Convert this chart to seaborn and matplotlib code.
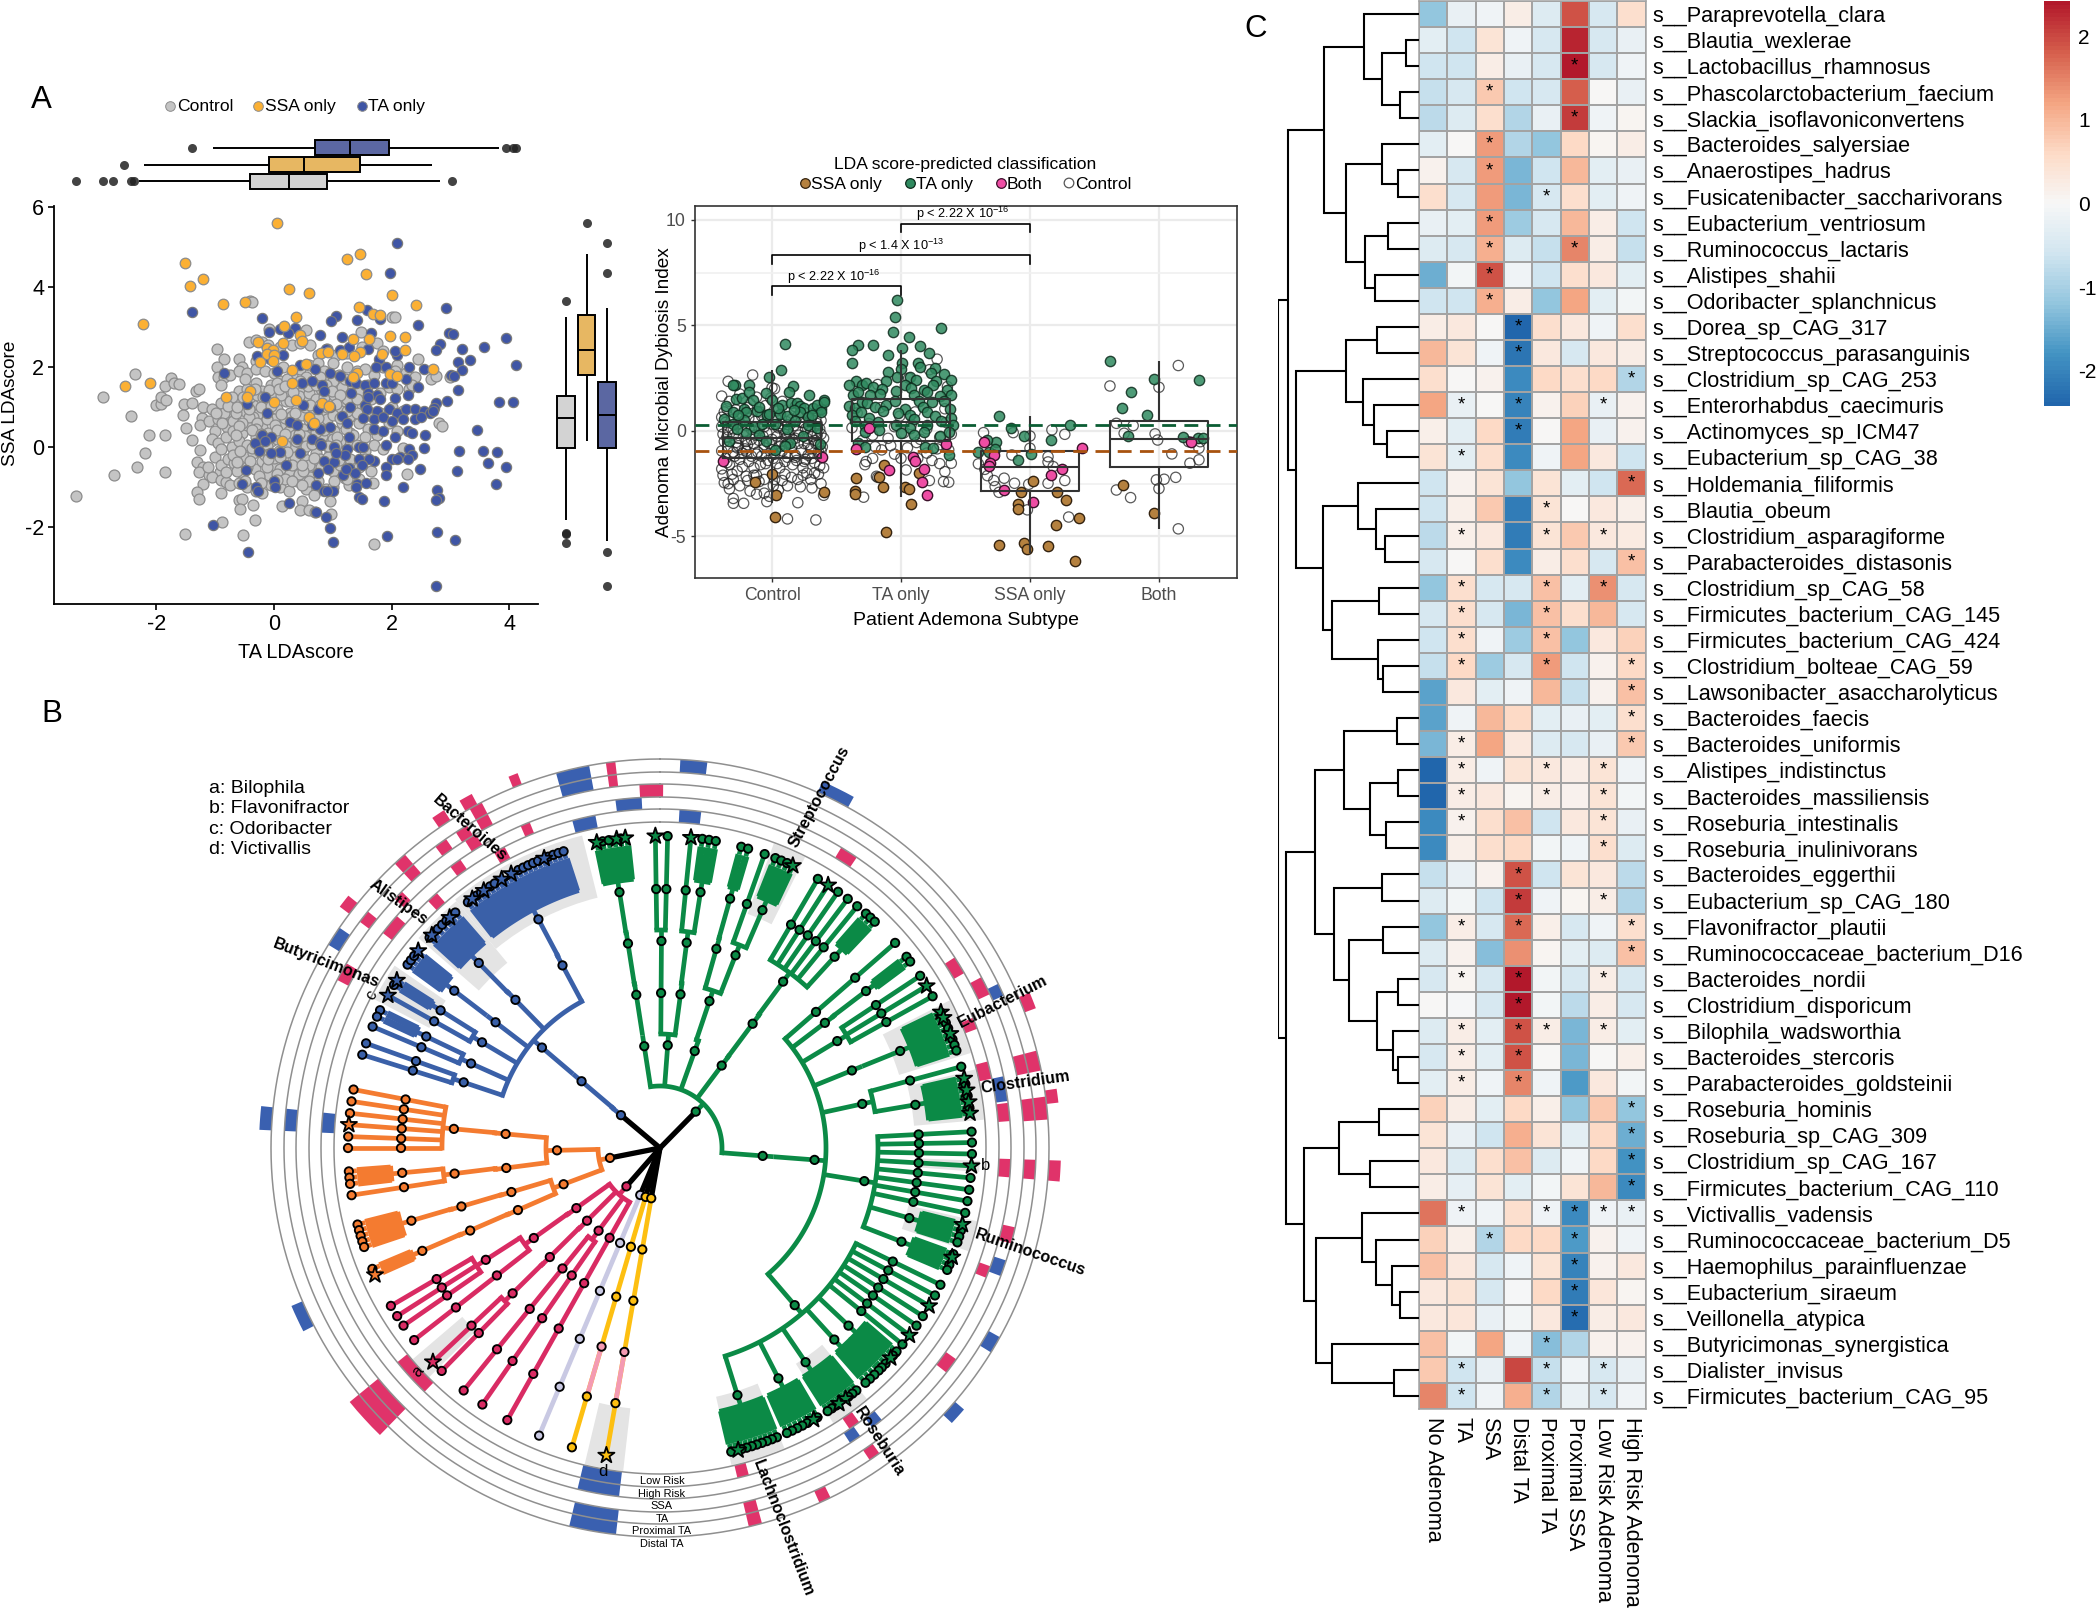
import numpy as np, pandas as pd
import matplotlib
matplotlib.use('Agg')
import matplotlib.pyplot as plt
from matplotlib.colors import LinearSegmentedColormap
import seaborn as sns

plt.rcParams['font.family'] = ['Liberation Sans', 'DejaVu Sans']
plt.rcParams['mathtext.default'] = 'regular'
plt.rcParams['axes.unicode_minus'] = False
W, H = 2100, 1609
fig = plt.figure(figsize=(21, 16.09), dpi=100, facecolor='white')
def axpx(l, t, r, b, **k):
    return fig.add_axes([l / W, 1 - b / H, (r - l) / W, (b - t) / H], **k)

# ---------------------------- Panel A data ----------------------------
CONTROL_PTS = [-3.37,-1.24,-2.9,1.25,-2.72,-.7,-2.43,.78,-2.33,-.5,-2.2,-.16,-2.13,.29,-1.86,.3,-1.86,-.63,-2.37,1.83,-1.75,1.72,-1.85,1.53,-1.7,1.6,-1.62,1.57,-2,1.05,-1.92,1.08,-1.92,1.24,-1.83,1.17,-1.53,1.07,-1.4,1.1,-1.32,1.4,-1.28,1.44,-1.54,.8,-1.5,.48,-1.22,.72,-1.4,.18,-1.25,-.07,-1.3,-.38,-1.2,-.5,-1.28,-.62,-1.1,-.7,-.92,-.63,-1.05,-.75,-.9,-.82,-.82,-.88,-1.2,-.94,-1.31,-1.12,-1.28,-1.31,-.9,-1.16,-.88,-1.87,-.52,-2.2,-1.52,-2.18,-.33,-1.83,-.6,-1.32,-.55,-1.3,-.57,-1.55,-.35,-1.45,.13,-1.48,.47,-1.35,.45,-1.58,.6,-1.57,.7,-1.63,.97,-1.68,.96,-1.36,1.7,-2.42,2.27,-.67,1.68,-.9,1.28,-.95,1.2,-.78,-.4,3.64,-.38,3.63,2,3.24,2.05,3.24,-.09,2.95,.55,2.93,1.48,2.87,-.43,2.63,-.3,2.66,-.97,2.45,-.2,2.62,2.45,2.2,2.67,1.7,2.75,1.78,3,1.75,2.8,.6,2.85,.53,2.1,2.05]
CONTROL_CORE = [-.85,2.2,-.6,2.2,-.55,2,-.3,2.15,-.1,2.55,.1,2.5,.3,2.55,.45,2.6,.62,2.55,.75,2.3,.9,2.45,1.05,2.3,1.25,2.35,1.5,2.5,1.75,2.6,1.85,2.4,-.97,2,-.95,1.75,-.85,1.75,-.75,1.8,-.6,1.9,-.45,1.85,-.3,1.95,-.15,1.9,0,1.85,.15,2,.3,1.8,.45,1.95,.6,2.05,.75,2.1,.85,1.9,1,2.1,1.1,1.8,1.25,2,1.42,1.9,1.55,1.95,1.7,1.8,1.85,2,2.05,1.9,2.25,1.85,2.4,1.75,-.9,1.55,-.6,1.4,-.45,1.45,-.3,1.6,-.2,1.4,-.05,1.55,.1,1.65,.2,1.35,.35,1.55,.5,1.4,.65,1.6,.8,1.45,.9,1.7,1.05,1.5,1.2,1.35,1.3,1.6,1.45,1.4,1.6,1.55,1.8,1.35,1.95,1.5,2.1,1.45,2.3,1.45,2.35,1.55,-1.2,1,-1.05,.95,-.9,1.1,-.75,.8,-.6,1.15,-.5,.9,-.35,1.05,-.25,.85,-.1,1.2,.05,.95,.2,1.15,.28,.85,.4,1,.55,1.2,.68,.9,.85,.85,.95,1.2,1.1,.95,1.2,1.15,1.35,.85,1.5,1.05,1.65,1.2,1.8,.85,2,1,2.2,.9,-1.25,.55,-1.1,.65,-1,.4,-.95,.7,-.8,.5,-.7,.65,-.55,.35,-.45,.55,-.35,.75,-.2,.5,-.1,.35,0,.7,.12,.5,.25,.4,.35,.65,.5,.45,.62,.3,.8,.55,.9,.7,1.02,.4,1.15,.6,1.3,.35,1.45,.6,1.6,.45,1.75,.3,1.95,.6,2.1,.4,-1.05,.2,-.95,.1,-.82,.25,-.72,0,-.6,.15,-.45,.05,-.3,.25,-.2,-.05,-.05,.15,.08,-.1,.2,.2,.32,-.05,.45,.1,.6,.25,.72,-.15,.85,.1,1,.2,1.15,-.1,1.28,.15,1.42,.05,1.55,-.1,1.7,.05,1.85,-.05,2.2,-.02,-1.12,-.5,-1,-.25,-.9,-.45,-.78,-.3,-.68,-.4,-.55,-.65,-.48,-.25,-.33,-.55,-.2,-.35,-.08,-.7,.02,-.45,.15,-.3,.25,-.6,.38,-.45,.52,-.3,.65,-.55,.72,-.7,.85,-.35,1,-.6,1.12,-.45,1.3,-.3,1.45,-.5,1.55,-.3,1.65,-.6,-.75,-.95,-.6,-.9,-.45,-1,-.3,-1.1,-.2,-1.15,-.05,-.95,.1,-1,.25,-1.1,.4,-.85,.55,-1.05,.62,-.75,.75,-.85,.88,-1.05,1,-1,1.25,-.8,1.45,-.8,
 -.5,1.7,-.4,1.25,-.28,1.3,-.15,1.1,-.02,1.3,.12,1.3,.28,1.15,.42,1.28,.6,1.35,.72,1.2,.85,1.25,1.02,1.3,1.15,1.5,1.25,1.2,1.42,1.2,.05,1.6,.22,1.7,.55,1.75,.78,1.75,1.0,1.65,1.2,1.7,-.65,.85,-.42,.75,-.28,.6,-.12,.7,.02,.55,.18,.72,.3,.78,.48,.8,.6,.68,.75,.72,1.0,.8,1.12,.72,1.28,.75,1.42,.85,1.62,.8,-.85,.85,-.7,.4,-.55,.6,-.3,.45,-.12,.02,.05,.2,.18,.05,.35,.3,.52,.28,.68,.12,.82,.28,.95,-.1,1.12,.15,1.35,.3,1.55,.25,-.7,-.2,-.58,-.1,-.35,-.15,-.15,-.2,0,-.28,.1,-.55,.35,-.25,.5,-.08,.6,-.45,.78,-.3,.92,-.25,1.1,-.32,-.62,-.6,-.45,-.5,-.25,-.72,-.12,-.5,.05,-.68,.18,-.8,.42,-.68,.6,-.85,.5,-.6,
 -.72,1.25,-.52,1.25,-.32,1.45,-.18,1.25,-.08,1.42,.08,1.45,.18,1.52,.32,1.38,.44,1.65,.58,1.52,.72,1.55,.88,1.55,.98,1.4,1.12,1.3,-.98,.85,-.78,1.02,-.62,1,-.42,.95,-.22,1,-.05,1.02,.12,.82,.35,.85,.52,1,.62,1.05,.78,1.05,.9,1,1.05,1.08,1.25,.9,-.88,.6,-.6,.52,-.38,.42,-.22,.32,.05,.42,.18,.32,.42,.32,.72,.38,.85,.42,1.08,.25,1.22,.45,-.9,-.05,-.65,.3,-.38,-.02,-.25,.12,-.08,-.18,.22,-.12,.38,.15,.55,.02,.65,.08,.92,.02,1.05,.05,-.82,-.62,-.62,-.38,-.4,-.35,-.1,-.3,.1,-.25,.3,-.45,.48,-.45,.68,-.28,.8,-.5,-.5,-.85,-.22,-.9,.05,-.82,.3,-.85,.48,-.95,.68,-1.2,1.02,-.85]
TA_PTS = [2.09,5.1,1.97,4.34,-1.39,3.38,2.93,3.47,-.21,3.23,1.05,3.26,.97,3.15,1.41,3.18,1.58,3.41,1.8,3.19,2.45,3.04,-.09,2.86,.1,2.94,.36,2.96,.24,2.84,.79,2.79,1.15,2.75,1.65,2.85,2.97,2.84,3.04,2.82,3.94,2.73,2.83,2.57,2.75,2.42,3.19,2.45,3.57,2.49,3.33,2.17,3.13,2.13,4.12,2.05,3.2,1.91,3.01,1.79,3.07,1.78,3.13,1.42,3.82,1.11,4.07,1.11,2.94,1.15,2.75,1.09,2.73,.98,3.45,.43,3.15,-.11,3.55,-.1,3.8,-.12,3.64,-.4,3.95,-.5,3.78,-.93,3.11,-.6,2.49,-.56,2.77,-1.09,2.81,-1.28,2.75,-1.33,2.78,-2.13,3.08,-2.33,2.75,-3.48,1.92,-2.22,1.87,-1.36,1.01,-2.38,.96,-2.04,.89,-1.75,.71,-1.64,.26,-1.4,-.44,-2.62,-1.04,-1.95]
TA_CORE = [-.28,2.28,-.06,2.2,.15,2.3,.45,2.05,.88,2.45,1.12,2.42,1.28,2.49,1.6,2.45,1.78,2.2,2.1,2.3,2.05,2.4,1.73,2,1.9,2,2.3,2,2.55,1.95,-.85,1.85,.05,1.9,.7,1.95,.95,1.85,1.12,1.78,1.3,1.65,.65,1.65,.48,1.6,.82,1.55,1.4,1.6,1.55,1.55,1.7,1.6,1.9,1.6,2,1.6,2.25,1.7,2.45,1.5,.85,1.4,1.31,1.35,1.6,1.35,1.75,1.3,2.28,1.3,-.15,1.25,-.45,1.08,.5,1.05,.75,.95,.95,1,1.3,1,1.55,1.05,1.6,1.25,1.8,1.2,2.05,1.22,1.58,.95,1.75,.9,1.95,.95,2.1,.85,2.25,.95,2.4,.95,2.55,.9,2.65,.85,1.15,.78,1.52,.72,1.7,.7,1.85,.75,2,.65,2.2,.7,2.4,.7,2.5,.75,2.7,.9,-.12,.85,.28,.62,.4,.55,.65,.55,.78,.45,.95,.5,1.25,.6,1.7,.45,1.85,.4,2.28,.4,2.35,.35,2.57,.3,2.05,.25,-.2,.3,-.05,.25,-.32,.1,-.15,.15,.4,.2,.65,.2,.78,.1,1.28,.25,.8,.05,1.02,0,1.25,-.05,1.45,0,1.52,0,1.9,.05,2.3,-.05,2.35,-.2,2.15,-.25,2.55,-.02,.1,-.12,-.05,-.15,-.25,-.1,.45,-.15,2,-.3,2.1,-.3,2.28,-.3,1.2,-.2,1.45,-.3,.85,-.35,1.02,-.38,1.05,-.15,.2,-.45,-.47,-.57,1.28,-.52,1.7,-.35,1.62,-.3,1.9,-.5,1.5,-.45,1.9,-.7,.92,-.55,1.18,-.7,1.38,-.65,1.22,-.55,.75,-.65,-.55,-.93,-.3,-1,-.27,-1.1,0,-.85,.02,-1,.72,-.95,1.42,-.92,1.57,-.9,.85,-1.1,1,-1.1,1.4,-1,1.45,-1.25,1.5,-1.3,2.2,-1.01,.9,-1.1]
SSA_PTS = [.05,5.59,-1.52,4.59,-1.43,4.01,-1.2,4.2,-.86,3.57,-.5,3.63,-2.22,3.07,.25,3.95,.6,3.84,1.25,4.69,1.47,4.82,1.57,4.31,2,3.79,2.42,3.54,1.44,3.49,1.68,3.33,1.8,3.3,.37,3.25,.17,3.02,.45,2.8,.47,2.65,-.27,2.62,.15,2.6,-.12,2.46,-.01,2.42,-.11,2.31,0,2.29,-.23,2.13,-.01,2.15,.54,2.08,.31,1.91,.8,2.34,.92,2.37,1.16,2.33,1.35,2.69,1.61,2.69,1.97,2.76,2.22,2.75,2.22,2.43,1.46,2.38,1.36,2.26,1.83,2.33,1.41,1.84,1.34,1.74,1.97,1.82,2.09,1.78,2.7,1.95,.3,1.59,-2.11,1.59,-2.54,1.52,-.41,1.4,-.46,1.25,-.82,1.25,0,1.12,.37,1.16,.82,1.09,.94,1.02,.6,.75,.68,.6,.14,.14]
BOX_GROUPS = ['TA only', 'SSA only', 'Control']
TOP_FIVE = {'TA only': [-1.03,.69,1.29,1.95,3.82], 'SSA only': [-2.21,-.08,.51,1.46,2.68], 'Control': [-2.29,-.4,.26,.91,2.83]}
TOP_FLIERS = {'TA only': [-1.39,3.94,4.07,4.12], 'SSA only': [-2.55], 'Control': [-3.37,-2.9,-2.73,-2.43,-2.38,3.03]}
RIGHT_GROUPS = ['Control', 'SSA only', 'TA only']
RIGHT_FIVE = {'Control': [-1.83,-.04,.72,1.28,3.24], 'SSA only': [.15,1.8,2.41,3.29,4.81], 'TA only': [-2.36,-.04,.79,1.62,3.47]}
RIGHT_FLIERS = {'Control': [3.64,-2.16,-2.19,-2.4], 'SSA only': [5.59], 'TA only': [5.1,4.34,-2.62,-3.48]}
A_COL = {'Control': '#c4c4c4', 'SSA only': '#fbb034', 'TA only': '#3f55a5'}
BOX_COL = {'Control': '#d3d3d3', 'SSA only': '#fdbd4c', 'TA only': '#4f5fae'}

# ---------------------------- Panel A2 data ---------------------------
CATS = ['Control', 'TA only', 'SSA only', 'Both']
BOX_FIVE = {'Control': [-3.4,-1.3,-.35,.44,2.9], 'TA only': [-3.14,-.46,.4,1.5,3.84], 'SSA only': [-5.8,-2.84,-1.72,-.93,.71], 'Both': [-4.64,-1.72,-.38,.47,3.32]}
OPEN_PTS = {
 0: [.12,-4.17,.34,-4.22,-.3,-3.43,-.22,-3.43,.2,-3.4,-.04,-3.35,-.3,-3.2,-.02,-3.1,-.12,-3,-.06,-2.95,-.33,-2.75,-.25,-2.6,-.17,-2.85,.05,-2.8,.12,-2.6,.22,-2.65,.31,-2.7,.4,-3.05,.38,-2.5,.3,-2.3,-.38,-2.1,-.3,-2.3,-.2,-2.15,-.1,-2.4,.02,-2.3,.1,-2.05,.2,-2.3,.27,-2,.36,-2.05,.4,-1.75,-.39,-1.8,-.33,-1.6,-.27,-1.9,-.14,-1.75,-.05,-1.55,.06,-1.75,.16,-1.6,.24,-1.75,.33,-1.5,-.36,-1.3,-.25,-1.35,-.18,-1.45,-.08,-1.2,.01,-1.3,.12,-1.25,.19,-1.4,.28,-1.15,.37,-1.2,-.39,-.95,-.3,-1,-.21,-.85,-.11,-1,0,-.9,.08,-.95,.15,-.8,.23,-.9,.3,-.85,.39,-.75,-.37,-.5,-.28,-.55,-.19,-.65,-.1,-.45,-.02,-.6,.07,-.5,.16,-.4,.25,-.6,.33,-.45,.4,-.35,-.38,-.15,-.3,-.2,-.22,-.05,-.13,-.2,-.04,-.1,.04,-.25,.13,-.05,.21,-.2,.3,-.05,.38,-.15,-.39,.2,-.3,.1,-.2,.25,-.1,.1,.01,.3,.09,.05,.17,.25,.26,.1,.35,.35,-.39,.65,-.3,.55,-.18,.6,-.08,.7,.03,.6,.11,.45,.2,.7,.3,.55,.38,.5,-.39,1.65,-.25,1.75,0,2.05,.02,2,-.34,2.35,-.15,2.65,-.05,1.2,-.35,1.05,-.2,-.5,.1,-.7,-.34,-2.5,-.14,-2.1,.26,-1.35,-.06,-.65,.11,-.3,.31,-.25,-.25,.35,.05,.25,.22,.4,.36,-1,-.26,-.7,-.12,-1.1,.06,-1.05,.18,-1.15,.34,-.6,
   -.37,-2.45,-.31,-2.05,-.23,-1.7,-.19,-2.35,-.12,-2.1,-.06,-2.3,.01,-2.6,.08,-2.35,.15,-2.2,.24,-2.1,.33,-2,.37,-1.65,-.35,-1.5,-.29,-1.2,-.23,-1.05,-.16,-1.2,-.09,-1.6,-.03,-1.4,.04,-1.55,.1,-1.45,.18,-1.25,.25,-1.45,.31,-1.3,.38,-.95,-.34,-.75,-.27,-.8,-.2,-.95,-.14,-.6,-.06,-.8,.02,-1.1,.06,-.75,.12,-.6,.2,-.6,.28,-.65,.36,-.65,-.35,-.3,-.26,-.35,-.16,-.4,-.07,-.25,0,-.4,.1,-.15,.18,-.35,.27,-.35,.35,-.2,-.34,.05,-.27,.3,-.16,.08,-.06,.2,.05,.15,.12,.3,.2,0,.3,.2,.37,.1,-.36,.4,-.26,.6,-.13,.45,-.04,.45,.07,.35,.15,.55,.24,.4,.34,.6,-.37,.9,-.28,1,-.17,1.3,-.09,.9,.04,.95,.18,1.15,.28,.85,.35,.95,-.33,1.4,-.19,1.1,-.12,1.6,-.01,1.55,.08,1.4],
 1: [.28,3.4,-.29,-3.14,.39,-1.53,.37,-2.43,.34,-1.93,.33,-2.4,.22,-2.35,.22,2.9,-.19,-2.15,-.18,-2.2,.04,-1.85,0,-1.3,-.05,-1.1,-.28,-1.6,-.27,-1.45,-.22,-1.3,.13,-1.3,.24,-1.4,.3,-1.55,-.34,-.85,-.15,-.9,-.08,-.7,.05,-.8,.2,-1.05,.28,-.85,.37,-.9,-.3,-.45,-.22,-.2,-.1,-.35,.02,-.1,.15,-.4,.3,-.3,.39,-.15,-.38,.15,-.25,.35,-.05,.2,.08,.3,.2,.1,.35,.4,.36,2.1,-.18,2.2,.06,2.5,-.01,.7,.11,.9,.34,1.05,-.34,.85,-.16,1.1,.12,-.55,-.2,-.75,.3,-.65],
 2: [-.36,-.08,-.13,-.08,0,-.24,.17,.05,.27,-.16,0,-.82,-.14,-1.14,.14,-1.22,.14,-1.47,.18,-1.69,-.4,-1.56,-.35,-1.82,-.33,-2.12,-.28,-2.35,-.2,-2.24,-.27,-2.64,-.24,-2.91,-.12,-2.48,-.01,-2.53,.14,-2.48,.27,-2.35,-.02,-3.74,.3,-4.08],
 3: [.15,3.1,-.38,2.13,0,2.07,-.33,.36,-.2,.25,-.27,-.11,-.03,-.14,-.01,-.43,.23,-.51,.32,-.51,.31,-.82,.1,-1.09,.31,-1.37,.24,-1.53,.13,-2.2,.04,-2.29,-.02,-2.32,0,-2.73,-.33,-2.8,-.22,-3.16,.15,-4.64]}
GREEN_PTS = {
 0: [.1,4.1,.07,2.9,-.02,2.55,-.29,2.2,-.3,2.2,-.18,2.2,.16,2.15,.13,1.85,.29,1.68,.4,1.45,-.28,1.5,-.23,1.55,-.18,1.85,-.15,1.45,-.36,1.2,-.05,1.8,0,1.45,.08,1.25,.15,1.3,.19,1.3,.22,1.2,.25,1.1,.32,1.1,.38,1.05,.35,1.25,.4,1.35,-.3,.9,-.22,1.05,-.2,.9,-.12,.95,-.04,.75,-.02,.8,.06,.8,.12,.7,.22,.9,.28,.65,.38,.9,-.37,.55,-.3,.35,-.22,.5,-.14,.2,-.08,.35,.02,.35,.12,.1,.18,.45,.28,.3,.35,.15,-.33,-.5,-.1,-.2,-.05,-.5,.14,-.55,.37,-.6,-.2,-.1,.24,-.25,-.27,.1,.05,1.1,.17,1.0,-.1,1.15,.31,.75,-.26,.75,.02,-.9,.1,-.7],
 1: [-.03,6.22,-.05,5.4,-.06,4.69,.31,4.88,.06,4.44,-.22,4.09,-.33,4.09,-.38,3.84,.01,3.92,.15,4.03,.22,3.71,-.1,3.62,-.38,3.22,.01,3.24,.13,3.21,.15,3.02,.26,3,0,2.94,-.1,2.8,-.03,2.56,.23,2.73,.33,2.69,.07,2.57,-.12,2.37,-.35,2.37,.39,2.4,.27,2.35,.12,2.42,-.4,2.2,-.3,2.2,-.27,2.25,-.22,2.1,-.15,2,.03,2.2,.08,2.05,.18,1.95,.25,2.2,.36,1.95,.39,1.7,-.37,1.7,-.33,1.85,-.24,1.7,-.16,1.75,-.04,1.9,.1,1.7,.2,1.85,.3,1.65,.33,1.4,-.4,1.2,-.36,1.1,-.3,1.35,-.26,1.3,-.2,1.15,-.12,1.25,-.05,1.4,.03,1.05,.14,1.4,.17,1.15,.24,1.35,.38,1.05,-.38,.75,-.31,.9,-.25,.6,-.14,.95,-.02,.85,.07,.75,.1,.55,.2,.9,.26,.7,.39,.6,-.36,.45,-.28,.25,-.18,.4,-.04,.3,.07,.15,.2,.3,.31,.45,.4,.3,-.28,-.05,-.17,.05,0,-.1,.1,-.2,.18,-.05,.3,-.25,.37,-.05,-.33,-.55,-.28,-.75,.19,-.75,.25,-.8,.37,-1.15],
 2: [-.24,.71,-.15,.13,-.05,-.22,.16,-.41,.31,.28,.01,-1.09,-.09,-1.37,-.26,-.52,-.33,-.43,-.4,-1,-.32,-1.01,-.27,-.87],
 3: [-.38,3.33,-.04,2.46,.31,2.42,-.22,1.83,-.29,1.11,-.09,.76,-.24,-.22,.19,-.3,.3,-.32,.34,-.35]}
BROWN_PTS = {0: [0,-2.02,-.13,-2.4,.03,-3.05,.02,-4.06,.4,-2.88],
 1: [-.12,-4.8,.08,-3.46,-.36,-2.87,-.36,-2.98,-.35,-2.24,-.17,-2.2,-.14,-2.64,-.13,-1.61,.03,-2.64,.14,-2,.06,-2.75],
 2: [-.24,-5.42,-.05,-5.32,-.02,-5.59,.14,-5.47,.35,-6.15,.2,-4.45,.38,-4.15,.28,-3.25,-.09,-3.46,-.09,-3.71,-.07,-2.88,.02,-2.37,.21,-2.89],
 3: [-.28,-2.54,-.04,-3.87]}
PINK_PTS = {0: [-.38,-1.41,.39,-1.25],
 1: [.2,-3.03,.16,-2.4,-.09,-1.85,.09,-1.22,.11,-1.42,.18,-1.8,-.35,-.85,.35,-.6,-.25,.13],
 2: [-.36,-.54,-.28,-1.14,-.31,-1.5,-.32,-1.66,-.2,-2.78,.02,-3.38,.16,-2.07,.25,-1.82,.4,-.79],
 3: [.25,-.51]}

# ---------------------------- Panel B data ----------------------------
RADII = [51, 103, 155, 207, 259, 312]
def fan(a, b, n):
    return [float(v) for v in np.linspace(a, b, n)]
GREEN_CLADE = (44.5, [
 (-8.8, [(-8.8, [(-8.9, [(-9.0, fan(-11.7, -6.1, 6))])])]),
 (4.3, [(.4, [(.4, [-.85, 1.4])]), (7.6, [(7.4, [5.7, (9.0, fan(7.8, 10.3, 3))])])]),
 (19.7, [(18.6, [(15.8, [(15.7, [15.1, 16.4])]), (21.4, [19.6, (23.3, fan(21.7, 25.2, 4))])])]),
 (36.8, [(36.7, [(36.5, [30.4, 32.6, 34.8, 37.0, 39.2, (42.4, fan(41.3, 43.5, 3))])])]),
 (94.4, [(94.4, [48.9, (52.8, [(52.7, [52.2, 53.3])]), (58.9, [56.5, 58.7, 60.9]),
   (68.0, [(68.0, fan(64.2, 71.8, 8))]), (77.7, [74.9, (80.4, fan(77.1, 83.6, 7))]),
   (99.2, [87.0, 89.0, 91.1, 93.3, 95.5, 97.7, 99.8, 102.0, (105.7, fan(104.2, 107.6, 4)), (111.2, fan(109.9, 113.0, 4))]),
   (139.4, [116.0, 118.2, 120.4, 122.6, 124.7, 126.9, 129.0, (133.3, fan(130.7, 134.7, 5)), (137.7, fan(135.5, 138.8, 4)),
            (145.8, fan(141.0, 147.5, 8)), (152.8, fan(149.7, 156.0, 7)), (162.6, fan(158.0, 166.8, 10))])])])])
BLUE_CLADE = (-49.9, [(-49.6, [(-49.6, [(-28.1, [(-28.0, fan(-38.0, -18.0, 21))]), (-44.3, [(-44.4, fan(-47.6, -41.0, 7))]),
   (-52.6, [(-52.6, fan(-54.0, -51.0, 4))]), (-59.3, [(-57.9, [-57.5, -58.5]), -60.7]),
   (-65.9, [(-64.5, [-63.8, -65.1]), -67.1]), (-71.5, [-70.4, -72.6])])])])
ORANGE_CLADE = (-101.2, [
 (-91.3, [(-84.8, [(-84.7, [-79.2, -81.4, -83.6, -85.7, -87.9, -90.0])]), (-97.4, [(-97.1, [(-95.5, fan(-94.3, -96.6, 3)), -98.7])])]),
 (-110.6, [(-106.5, [(-106.4, [(-106.3, fan(-104.2, -108.5, 5))])]), (-113.6, [(-113.5, [(-113.4, [-112.8, -114.0])])])])])
RED_CLADE = (-138.8, [
 (-125.7, [(-125.5, [(-122.7, [-120.4, -122.6, -124.7]), -128.0])]),
 (-134.9, [(-134.7, [(-134.6, [-133.3, -135.6])])]),
 (-143.4, [-141.0, -145.3]), -150.7])
LAVENDER_CLADE, YELLOW_A, YELLOW_B = -157.2, -163.6, -170.1
C_GREEN, C_BLUE, C_ORANGE, C_RED, C_LAV, C_YEL, C_PINK = '#0b8a46', '#3a60a8', '#f47b30', '#d92b63', '#c9c9e3', '#fdbf11', '#f49ab2'
STARS = {C_GREEN: [-11.7, -8.0, -6.4, -.85, 5.7, 25.2, 32.6, 58.7, 64.2, 65.3, 68.5, 77.1, 79.3, 81.5, 83.6, 93.3, 104.2, 110.5, 120.4, 126.9, 132.3, 143.5, 145.0, 150.5, 165.5],
         C_BLUE: [-21.8, -28.5, -30.5, -34.4, -37.0, -42.4, -47.0, -50.8, -57.5, -60.7],
         C_ORANGE: [-85.7, -114.0], C_RED: [-133.3], C_YEL: [-170.1]}
SHADES = [(20.5,26.5,250,325),(-39.5,-14,258,322),(-49,-39.5,240,320),(-62.5,-55.5,260,322),(63,73,250,325),(76,85,255,325),(92.3,94.3,260,320),
          (103,108.5,255,325),(140.5,147.8,255,325),(157.5,167.3,255,325),(-134.8,-130.5,260,325),(-173.5,-166.6,262,325)]
RINGS = [326, 339, 351, 364, 376, 389]
BAND_EDGES = [326, 339, 351, 364, 376, 389, 401]
RED_MARKS = [(-3.25,.5,2,2),(-8,-6.6,3,4),(-23.4,-21.8,1,1),(-22.2,-20.8,5,5),(-29.3,-27.3,3,4),(-29.3,-27.3,0,0),(-32.4,-30.4,2,2),(-32.9,-30.9,3,3),(-34.6,-32.6,5,5),(-30,-28,5,5),(-36.7,-34.7,1,1),(-36.7,-34.7,3,3),(-43,-41,3,4),(-43.2,-41.2,0,0),(-46.8,-45.2,2,2),(-53,-51,3,3),(-53,-51,5,5),(-52.2,-48.6,1,1),(-62.5,-59.5,2,2),(-136,-129.2,0,0),(-135.7,-129.3,3,5),
             (31.1,34.1,1,1),(57.1,60.1,1,1),(62,65,2,2),(67.2,69.6,5,5),(67.4,69.4,0,0),(75.2,78.2,0,0),(75.5,78.5,3,4),(81.5,83.5,5,5),(82.6,85.6,1,1),(82.4,85.8,3,4),(91.8,94.8,1,1),(91.8,94.8,3,3),(91.8,94.8,5,5),(102.6,105.2,2,2),(109.7,111.7,1,1),(125.5,128.1,2,2),(144.3,146.1,3,3),(144,146,0,0),(154,155.8,4,4),(164.8,166.8,0,0),(164.8,166.8,3,4)]
BLUE_MARKS = [(3.3,7,0,0),(3,7,4,4),(-7.3,-3,1,1),(-15,-11,0,0),(-15.5,-10.5,3,4),(23.9,28.9,5,5),(64.1,66.1,3,3),(78.2,80.6,1,1),(80.3,82.3,1,1),(108,110.6,2,2),(119.1,121.7,4,4),(130.7,133.3,5,5),(140.8,142.8,1,1),(145.2,147.2,1,1),(-173.3,-166.4,0,1),(-173.5,-166.5,3,4),(-117.2,-113.2,5,5),(-58.5,-55.5,4,4),(-87.4,-84,0,0),(-87.4,-84,3,3),(-87.4,-84,5,5)]
BAND_NAMES = ['Low Risk', 'High Risk', 'SSA', 'TA', 'Proximal TA', 'Distal TA']
LETTER_LEGEND = ['a: Bilophila', 'b: Flavonifractor', 'c: Odoribacter', 'd: Victivallis']

# ---------------------------- Panel C data ----------------------------
COLUMNS = ['No Adenoma', 'TA', 'SSA', 'Distal TA', 'Proximal TA', 'Proximal SSA', 'Low Risk Adenoma', 'High Risk Adenoma']
TAXA = ['Paraprevotella_clara','Blautia_wexlerae','Lactobacillus_rhamnosus','Phascolarctobacterium_faecium','Slackia_isoflavoniconvertens','Bacteroides_salyersiae','Anaerostipes_hadrus','Fusicatenibacter_saccharivorans','Eubacterium_ventriosum','Ruminococcus_lactaris','Alistipes_shahii','Odoribacter_splanchnicus','Dorea_sp_CAG_317','Streptococcus_parasanguinis','Clostridium_sp_CAG_253','Enterorhabdus_caecimuris','Actinomyces_sp_ICM47','Eubacterium_sp_CAG_38','Holdemania_filiformis','Blautia_obeum','Clostridium_asparagiforme','Parabacteroides_distasonis','Clostridium_sp_CAG_58','Firmicutes_bacterium_CAG_145','Firmicutes_bacterium_CAG_424','Clostridium_bolteae_CAG_59','Lawsonibacter_asaccharolyticus','Bacteroides_faecis','Bacteroides_uniformis','Alistipes_indistinctus','Bacteroides_massiliensis','Roseburia_intestinalis','Roseburia_inulinivorans','Bacteroides_eggerthii','Eubacterium_sp_CAG_180','Flavonifractor_plautii','Ruminococcaceae_bacterium_D16','Bacteroides_nordii','Clostridium_disporicum','Bilophila_wadsworthia','Bacteroides_stercoris','Parabacteroides_goldsteinii','Roseburia_hominis','Roseburia_sp_CAG_309','Clostridium_sp_CAG_167','Firmicutes_bacterium_CAG_110','Victivallis_vadensis','Ruminococcaceae_bacterium_D5','Haemophilus_parainfluenzae','Eubacterium_siraeum','Veillonella_atypica','Butyricimonas_synergistica','Dialister_invisus','Firmicutes_bacterium_CAG_95']
HEAT = [[-1.2,-.2,-.1,.2,-.4,1.9,-.5,.5],[-.3,-.6,.4,-.1,-.5,2.3,-.5,-.2],[-.6,-.6,.2,-.2,-.5,2.4,-.5,-.1],[-.7,-.5,.8,-.6,-.5,1.8,0,-.2],[-.8,-.4,.5,-.9,-.2,2.1,-.1,.05],[-.3,0,1.3,-.9,-1.2,.6,.05,.2],[.1,-.5,1.3,-1.4,-.6,1,-.3,-.2],[.5,-.5,1.3,-1.4,-.5,.5,-.3,-.1],[-.2,-.3,1.3,-1.1,-.5,1,.2,-.6],[-.4,-.5,1.1,-.4,-.7,1.5,.2,-.7],[-1.5,-.05,1.9,-.1,-.6,.5,.3,-.3],[-.6,-.6,1.1,.2,-1.2,1.2,-.3,-.05],[.2,.3,0,-2.4,.5,.3,-.1,.5],[1,.4,-.1,-2.2,.3,-.5,.3,.2],[.5,0,.1,-1.9,.6,.5,.6,-.9],[1.2,-.2,0,-2,.1,.7,-.2,.1],[.15,-.3,.6,-2.1,0,1.2,-.2,.1],[.4,-.3,.5,-1.9,-.1,1.2,.3,-.6],[-.6,.1,.4,-1.2,.4,-.3,-.6,1.7],[-.6,.15,.8,-2.1,.4,0,.3,.15],[-.8,.15,.3,-2.1,.4,.8,.3,.25],[-.5,0,.5,-1.9,.2,.5,-.5,.9],[-1.2,.5,-.5,-.5,.9,-.3,1.4,-.5],[-.5,.5,-.5,-1.4,.9,.5,1,-.5],[-.6,.5,-.1,-1.1,.9,-1.2,.3,.7],[-.7,.6,-1.1,-.5,1.3,-.6,.1,.6],[-1.6,.3,-.3,-.1,1,-.7,.1,.9],[-1.6,-.1,1,.6,-.3,-.2,-.3,.5],[-1.4,.2,1.2,.3,-.4,-.5,-.2,.8],[-2.4,.2,-.1,.4,.3,.2,.4,-.1],[-2.4,.2,.3,.05,.2,.1,.4,-.05],[-1.9,.1,.5,.9,-.6,.3,.4,-.2],[-1.9,.15,.5,.6,-.05,-.1,.5,-.4],[-.7,-.2,.1,1.9,-.6,.4,.3,-.8],[-.4,-.05,-.6,2.1,-.1,.05,.2,-.9],[-1.2,.2,-.5,1.7,.15,-.5,-.1,.5],[-.4,.1,-1.3,1.4,.05,-.3,-.4,.9],[-.5,.05,-.5,2.4,-.05,-.5,.2,-.5],[0,-.02,-.5,2.4,-.05,-.8,.2,-.5],[-.4,.2,-.3,1.9,.2,-1.4,.2,-.3],[-.5,.2,-.3,1.9,0,-1.4,0,.15],[-.3,.2,-.1,1.5,-.1,-1.7,.3,-.05],[.7,.2,-.3,.6,.15,-1.2,.8,-1.2],[.4,-.2,-.6,1.1,.4,-.3,.6,-1.5],[.3,-.4,.5,.9,-.4,-.1,.6,-1.8],[.2,-.25,.4,-.3,-.05,.4,1,-1.9],[1.6,-.1,-.1,.5,-.1,-1.9,-.1,-.2],[.7,.15,-.9,.6,.6,-1.7,.1,-.1],[.9,.3,-.5,-.1,.4,-2,.1,.3],[.3,.4,-.5,-.02,.6,-2.1,.35,.05],[.3,.35,-.2,-.05,.3,-2.3,.2,.3],[.9,-.05,1.2,-.1,-1.3,-.9,.1,.1],[.8,-.6,-.2,2,-.7,-.1,-.5,-.2],[1.5,-.6,-.1,1.1,-.9,-.2,-.5,-.1]]
SIG = [(),(),(5,),(2,),(5,),(2,),(2,),(4,),(2,),(2,5),(2,),(2,),(3,),(3,),(7,),(1,3,6),(3,),(1,),(7,),(4,),(1,4,6),(7,),(1,4,6),(1,4),(1,4),(1,4,7),(7,),(7,),(1,7),(1,4,6),(1,4,6),(1,6),(6,),(3,),(3,6),(1,3,7),(7,),(1,3,6),(3,),(1,3,4,6),(1,3),(1,3),(7,),(7,),(7,),(7,),(1,4,5,6,7),(2,5),(5,),(5,),(5,),(4,),(1,4,6),(1,4,6)]
DEND = (264,(244,(177,(102,1,(70,(25,2,3),(35,4,5))),(137,(69,6,(40,7,8)),(100,(57,9,10),(82,11,12)))),
  (230,(137,(79,13,14),(105,15,(85,16,(59,17,18)))),(180,(114,19,(80,20,(64,21,22))),(162,(75,23,24),(77,25,(68,26,27)))))),
 (249,(194,(141,(42,28,29),(92,(40,30,31),(62,32,33))),(158,(69,34,35),(130,(68,36,37),(79,(40,38,39),(49,40,(39,41,42)))))),
  (215,(149,(75,43,44),(92,45,46)),(193,(107,47,(80,48,(50,49,(36,50,51)))),(162,52,(47,53,54))))))

# ======================================================================
ov = axpx(0, 0, W, H)
ov.set_xlim(0, W); ov.set_ylim(H, 0); ov.axis('off'); ov.set_zorder(10); ov.patch.set_alpha(0)
def T(x, y, s, fs=12, ha='center', va='center', rot=0, **k):
    ov.text(x, y, s, fontsize=fs, ha=ha, va=va, rotation=rot, rotation_mode='anchor', **k)
for x, y, s in [(41, 100, 'A'), (52, 714, 'B'), (1256, 29, 'C')]:
    T(x, y, s, fs=22.5)

# ---------- scatter
ax = axpx(54, 206, 538, 604)
def pts(lst):
    return np.array(lst, dtype=float).reshape(-1, 2)
sc = pd.concat([pd.DataFrame(pts(CONTROL_PTS + CONTROL_CORE), columns=['x', 'y']).assign(g='Control'),
                pd.DataFrame(pts(TA_PTS + TA_CORE), columns=['x', 'y']).assign(g='TA only'),
                pd.DataFrame(pts(SSA_PTS), columns=['x', 'y']).assign(g='SSA only')])
for g, s, ec in [('Control', 62, '#8c8c8c'), ('TA only', 54, '#7a7a7a'), ('SSA only', 58, '#8c8c8c')]:
    d = sc[sc.g == g]
    sns.scatterplot(data=d, x='x', y='y', color=A_COL[g], s=s, edgecolor=ec, linewidth=.9, ax=ax, legend=False)
ax.set_xlim(-3.74, 4.49); ax.set_ylim(-3.93, 6.02)
ax.set_xticks([-2, 0, 2, 4]); ax.set_yticks([-2, 0, 2, 4, 6])
ax.set_xlabel(''); ax.set_ylabel('')
ax.tick_params(labelsize=15.5, length=4, width=1.2, pad=3)
sns.despine(ax=ax)
for sp in ax.spines.values():
    sp.set_linewidth(1.3)
T(296, 652, 'TA LDAscore', fs=14.3)
T(9, 403, 'SSA LDAscore', fs=13.7, rot=90, va='center_baseline')
for x, tx, lab in [(170, 177, 'Control'), (258, 265, 'SSA only'), (362, 368, 'TA only')]:
    ov.scatter([x], [106], s=48, color=A_COL[lab], edgecolor='#8c8c8c', linewidth=.7)
    T(tx, 106, lab, fs=12.6, ha='left')

def marginal(axm, groups, five, fliers, horizontal):
    long = pd.DataFrame([(g, v) for g in groups for v in five[g]], columns=['g', 'v'])
    fl = pd.DataFrame([(g, v) for g in groups for v in fliers[g]], columns=['g', 'v'])
    kw = dict(x='v', y='g') if horizontal else dict(x='g', y='v')
    sns.boxplot(data=long, order=groups, hue='g', hue_order=groups, palette=BOX_COL, whis=(0, 100), width=.88,
                showcaps=False, fliersize=0, linecolor='black', linewidth=1.4, legend=False, ax=axm, **kw)
    sns.stripplot(data=fl, order=groups, jitter=False, color='#222222', alpha=.85, size=6.5, ax=axm, legend=False, **kw)
    axm.axis('off')
axt = axpx(54, 139.5, 538, 189.5)
marginal(axt, BOX_GROUPS, TOP_FIVE, TOP_FLIERS, True)
axt.set_xlim(-3.74, 4.49); axt.set_ylim(2.5, -.5)
axr = axpx(556, 206, 617, 604)
marginal(axr, RIGHT_GROUPS, RIGHT_FIVE, RIGHT_FLIERS, False)
axr.set_ylim(-3.93, 6.02); axr.set_xlim(-.5, 2.5)

# ---------- jitter panel
aj = axpx(695, 206, 1237, 578)
def jit(dic):
    out = []
    for k, v in dic.items():
        a = pts(v)
        out.append(pd.DataFrame({'x': a[:, 0] + k, 'y': a[:, 1]}))
    return pd.concat(out)
aj.set_axisbelow(True)
sns.scatterplot(data=jit(OPEN_PTS), x='x', y='y', facecolor='none', edgecolor='#222222', alpha=.75, s=55, linewidth=.9, ax=aj, legend=False, zorder=2)
sns.scatterplot(data=jit(GREEN_PTS), x='x', y='y', color='#2f8a5f', edgecolor='#0d2b1c', alpha=.85, s=55, linewidth=1, ax=aj, legend=False, zorder=3)
sns.scatterplot(data=jit(BROWN_PTS), x='x', y='y', color='#b5813f', edgecolor='#33220f', s=55, linewidth=1, ax=aj, legend=False, zorder=3)
sns.scatterplot(data=jit(PINK_PTS), x='x', y='y', color='#ee4da4', edgecolor='#3a1029', s=55, linewidth=1, ax=aj, legend=False, zorder=3)
long = pd.DataFrame([(c, v) for c in CATS for v in BOX_FIVE[c]], columns=['g', 'v'])
sns.boxplot(data=long, x='g', y='v', order=CATS, fill=False, color='#333333', whis=(0, 100), width=.76, showcaps=False,
            fliersize=0, linewidth=1.5, ax=aj, zorder=4)
aj.set_xlim(-.597, 3.605); aj.set_ylim(-6.97, 10.66)
aj.set_xticks(range(4)); aj.set_xticklabels(CATS)
aj.set_yticks([-5, 0, 5, 10]); aj.set_yticks([-2.5, 2.5, 7.5], minor=True)
aj.grid(True, which='major', color='#ebebeb', lw=1.6); aj.grid(True, which='minor', axis='y', color='#f0f0f0', lw=1.2)
aj.tick_params(axis='both', labelsize=12.7, labelcolor='#4d4d4d', length=3, width=1, color='#333333')
aj.tick_params(axis='y', which='minor', length=0)
aj.set_xlabel(''); aj.set_ylabel('')
for sp in aj.spines.values():
    sp.set_linewidth(1.2); sp.set_color('#333333')
aj.axhline(.27, color='#0b5d33', lw=2, ls=(0, (5, 3)), zorder=5)
aj.axhline(-.93, color='#a8530f', lw=2, ls=(0, (5, 3)), zorder=5)
for x0, x1, y, drop, tx, lab in [(0, 1, 6.87, .42, .5, '2.22 X 10$^{-16}$'), (0, 2, 8.34, .42, 1.0, '1.4 X 10$^{-13}$'), (1, 2, 9.83, .42, 1.5, '2.22 X 10$^{-16}$')]:
    aj.plot([x0, x0, x1, x1], [y - drop, y, y, y - drop], color='black', lw=1.2, zorder=6)
    aj.text(tx - (.02 if x1 - x0 == 1 else 0), y + .02, 'p < ' + lab, ha='center', va='bottom', fontsize=9.2, zorder=6)
T(965, 164, 'LDA score-predicted classification', fs=12.6)
for x, tx, lab, c, e in [(805, 811, 'SSA only', '#b5813f', '#33220f'), (910, 916, 'TA only', '#2f8a5f', '#0d2b1c'), (1001, 1007, 'Both', '#ee4da4', '#3a1029'), (1069, 1075, 'Control', 'none', '#555555')]:
    ov.scatter([x], [183], s=48, facecolor=c, edgecolor=e, linewidth=.9)
    T(tx, 184, lab, fs=12.6, ha='left')
T(966, 620, 'Patient Ademona Subtype', fs=14)
T(664.5, 392, 'Adenoma Microbial Dybiosis Index', fs=13.7, rot=90)

# ---------- cladogram
R = 420
at = axpx(660 - R, 1148 - R, 660 + R, 1148 + R, projection='polar')
at.set_theta_zero_location('N'); at.set_theta_direction(-1); at.set_ylim(0, R); at.axis('off')
at.patch.set_alpha(0)
rad = np.deg2rad
for a0, a1, r0, r1 in SHADES:
    at.bar(rad((a0 + a1) / 2), r1 - r0, width=rad(a1 - a0), bottom=r0, color='#e4e4e4', linewidth=0, zorder=1)
for a0, a1, b0, b1 in RED_MARKS:
    at.bar(rad((a0 + a1) / 2), BAND_EDGES[b1 + 1] - BAND_EDGES[b0], width=rad(a1 - a0), bottom=BAND_EDGES[b0], color='#e0336a', linewidth=0, zorder=1.5)
for a0, a1, b0, b1 in BLUE_MARKS:
    at.bar(rad((a0 + a1) / 2), BAND_EDGES[b1 + 1] - BAND_EDGES[b0], width=rad(a1 - a0), bottom=BAND_EDGES[b0], color='#3a60b0', linewidth=0, zorder=1.5)
ring_t = np.linspace(0, 2 * np.pi, 1441)
for r in RINGS:
    at.plot(ring_t, np.full_like(ring_t, r), color='#8f8f8f', lw=1.1, zorder=1.8)
LW, LW_FAN = 3.4, 5.2
nodes = []
def node_angle(n):
    return n if isinstance(n, float) else n[0]
def radial(a, r0, r1, c, lw=LW, end=None):
    at.plot([rad(a), rad(a)], [r0, r1], color=c, lw=lw, solid_capstyle='butt', zorder=2)
def draw(n, lvl, r_from, c, lw=LW):
    if isinstance(n, float):
        if lw > LW:
            radial(n, r_from, RADII[-1] - 8, c, lw)
            radial(n, RADII[-1] - 8, RADII[-1], c, LW)
        else:
            radial(n, r_from, RADII[-1], c, lw)
        for r in RADII[lvl:]:
            nodes.append((n, r, c))
        return
    a, kids = n
    arc_r = RADII[lvl] + 11
    radial(a, r_from, arc_r, c)
    nodes.append((a, RADII[lvl], c))
    angs = [node_angle(k) for k in kids] + [a]
    if max(angs) > min(angs):
        tt = np.linspace(rad(min(angs)), rad(max(angs)), 80)
        at.plot(tt, np.full_like(tt, arc_r), color=c, lw=LW, solid_capstyle='projecting', zorder=2)
    floats = sorted(k for k in kids if isinstance(k, float))
    tight = len(floats) == len(kids) and len(kids) > 1 and lvl == 4 and max(np.diff(floats)) < 1.7
    for k in kids:
        draw(k, lvl + 1, arc_r, c, LW_FAN if tight else LW)
for clade, c in [(GREEN_CLADE, C_GREEN), (BLUE_CLADE, C_BLUE), (ORANGE_CLADE, C_ORANGE), (RED_CLADE, C_RED), (LAVENDER_CLADE, C_LAV), (YELLOW_A, C_YEL), (YELLOW_B, C_YEL)]:
    a0 = node_angle(clade)
    at.plot([0, rad(a0)], [0, RADII[0]], color='black', lw=3.8, solid_capstyle='butt', zorder=2.2)
    draw(clade, 0, RADII[0], c)
for a in (YELLOW_A, YELLOW_B):
    radial(a, RADII[3], RADII[4], C_PINK)
    nodes[:] = [(x, r, C_PINK if (x == a and r == RADII[3]) else q) for x, r, q in nodes]
star_list = [(a, c) for c, v in STARS.items() for a in v]
keep = [(a, r, c) for a, r, c in nodes if not (r == RADII[-1] and any(abs(a - s) < .55 for s, _ in star_list))]
nd = pd.DataFrame(keep, columns=['a', 'r', 'c'])
at.scatter(np.deg2rad(nd.a), nd.r, s=36, c=nd.c, edgecolor='black', linewidth=1.35, zorder=3)
sd = pd.DataFrame(star_list, columns=['a', 'c'])
at.scatter(np.deg2rad(sd.a), np.full(len(sd), RADII[-1]), s=150, marker='*', c=sd.c, edgecolor='black', linewidth=1.3, zorder=4)
for i, s in enumerate(LETTER_LEGEND):
    T(209, 788 + i * 20.6, s, fs=14, ha='left')
for i, s in enumerate(BAND_NAMES):
    T(662, 1481 + i * 12.6, s, fs=7.9)
for x, y, s, rot in [(470, 828, 'Bacteroides', -41), (398, 902, 'Alistipes', -35), (326, 963, 'Butyricimonas', -21), (819, 797, 'Streptococcus', 62),
                     (1003, 1002, 'Eubacterium', 27), (1025, 1082, 'Clostridium', 8), (1030, 1253, 'Ruminococcus', -19), (879, 1442, 'Roseburia', -57), (783, 1528, 'Lachnoclostridium', -69)]:
    T(x, y, s, fs=11.7, rot=rot, fontweight='bold')
for x, y, s, rot in [(371, 995, 'c', 60), (986, 1166, 'b', 0), (603, 1472, 'd', 0), (418, 1372, 'a', 50)]:
    T(x, y, s, fs=12, rot=rot)

# ---------- heatmap
ah = axpx(1419, 1, 1645.7, 1409)
ac = axpx(2043.6, 1, 2070, 406)
heat_df = pd.DataFrame(HEAT, index=['s__' + t for t in TAXA], columns=COLUMNS)
annot = np.full((54, 8), '', dtype=object)
for i, cols in enumerate(SIG):
    for j in cols:
        annot[i, j] = '*'
cmap = LinearSegmentedColormap.from_list('rb', ['#2166ac', '#4393c3', '#92c5de', '#d1e5f0', '#f7f7f7', '#fddbc7', '#f4a582', '#d6604d', '#b2182b'], N=100)
sns.heatmap(heat_df, ax=ah, cbar_ax=ac, cmap=cmap, vmin=-2.42, vmax=2.42, linewidths=1.1, linecolor='#a3a3a3',
            annot=annot, fmt='', annot_kws={'fontsize': 13.5, 'color': 'black'}, xticklabels=True, yticklabels=True)
ah.yaxis.tick_right()
ah.tick_params(axis='y', length=0, labelsize=15.55, pad=5, labelrotation=0)
ah.tick_params(axis='x', length=0, labelsize=15.6, pad=6, labelrotation=-90)
for t in ah.get_xticklabels():
    t.set_ha('center'); t.set_va('top')
for sp in ['top', 'bottom', 'left', 'right']:
    ah.spines[sp].set_visible(True); ah.spines[sp].set_color('#a3a3a3'); ah.spines[sp].set_linewidth(1.1)
ac.set_yticks([-2, -1, 0, 1, 2])
ac.tick_params(length=0, labelsize=15, pad=6)
ac.set_yticklabels(['-2', '-1', '0', '1', '2'])
ad = axpx(1277.7, 1, 1419, 1409)
ad.set_xlim(264, 0); ad.set_ylim(54, 0); ad.axis('off')
def dend(n):
    if isinstance(n, int):
        return 0, n - .5
    h, a, b = n
    ha, ya = dend(a); hb, yb = dend(b)
    ad.plot([ha, h, h, hb], [ya, ya, yb, yb], color='black', lw=1.5, solid_joinstyle='miter', solid_capstyle='butt')
    return h, (ya + yb) / 2
h0, y0 = dend(DEND)

fig.savefig('out.png', dpi=100, facecolor='white')
